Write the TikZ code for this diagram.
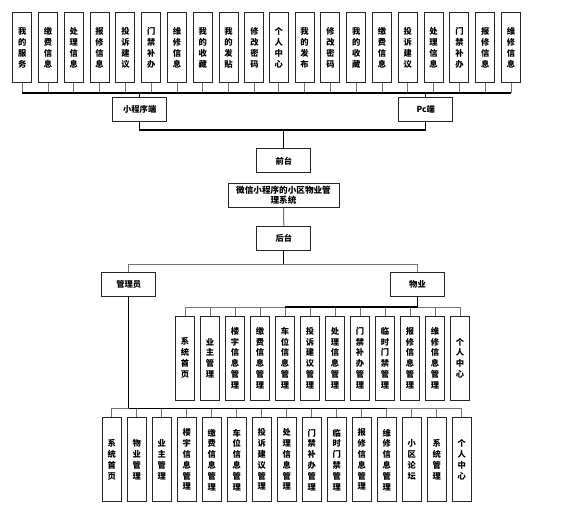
\documentclass[tikz,border=0pt]{standalone}
\usepackage{fontspec}
\setmainfont{Noto Sans CJK SC}
\begin{document}
\begin{tikzpicture}[x=1pt,y=-1pt,
  box/.style={draw=black!85,line width=1pt,fill=white,inner sep=0pt,align=center,
    font=\fontsize{8.3}{10.8}\selectfont\bfseries},
  topbox/.style={box,minimum width=19pt,minimum height=70pt},
  rowbox/.style={box,minimum width=19pt,minimum height=84pt},
  hbox/.style={box,minimum width=54pt,minimum height=24pt},
  main/.style={draw=black,line width=1.3pt},
  stub/.style={draw=black!55,line width=1pt}]
\useasboundingbox (0,0) rectangle (576,512);
% top row
\foreach \t [count=\i from 0] in {{我\\的\\服\\务},{缴\\费\\信\\息},{处\\理\\信\\息},{报\\修\\信\\息},{投\\诉\\建\\议},{门\\禁\\补\\办},{维\\修\\信\\息},{我\\的\\收\\藏},{我\\的\\发\\贴},{修\\改\\密\\码}}
  \node[topbox] (t\i) at ({22.2+25.8*\i},47.8) {\t};
\foreach \t [count=\i from 0] in {{个\\人\\中\\心},{我\\的\\发\\布},{修\\改\\密\\码},{我\\的\\收\\藏},{缴\\费\\信\\息},{投\\诉\\建\\议},{处\\理\\信\\息},{门\\禁\\补\\办},{报\\修\\信\\息},{维\\修\\信\\息}}
  \node[topbox] (r\i) at ({278.8+25.8*\i},47.8) {\t};
% middle nodes
\node[hbox] (mp) at (139.7,109.3) {小程序端};
\node[hbox] (pc) at (425.8,109.3) {Pc端};
\node[hbox] (qt) at (283.8,160.8) {前台};
\node[box,minimum width=111pt,minimum height=24.5pt,font=\fontsize{8.6}{10.3}\selectfont\bfseries] (title) at (283.5,195.3) {微信小程序的小区物业管\\理系统};
\node[hbox] (ht) at (283.8,238.3) {后台};
\node[hbox] (gly) at (128.8,284.8) {管理员};
\node[hbox] (wy) at (417.5,284.8) {物业};
% middle row
\foreach \t [count=\i from 0] in {{系\\统\\首\\页},{业\\主\\管\\理},{楼\\宇\\信\\息\\管\\理},{缴\\费\\信\\息\\管\\理},{车\\位\\信\\息\\管\\理},{投\\诉\\建\\议\\管\\理},{处\\理\\信\\息\\管\\理},{门\\禁\\补\\办\\管\\理},{临\\时\\门\\禁\\管\\理},{报\\修\\信\\息\\管\\理},{维\\修\\信\\息\\管\\理},{个\\人\\中\\心}}
  \node[rowbox,minimum width=18.6pt] (m\i) at ({185+25*\i},358) {\t};
% bottom row
\foreach \t [count=\i from 0] in {{系\\统\\首\\页},{物\\业\\管\\理},{业\\主\\管\\理},{楼\\宇\\信\\息\\管\\理},{缴\\费\\信\\息\\管\\理},{车\\位\\信\\息\\管\\理},{投\\诉\\建\\议\\管\\理},{处\\理\\信\\息\\管\\理},{门\\禁\\补\\办\\管\\理},{临\\时\\门\\禁\\管\\理},{报\\修\\信\\息\\管\\理},{维\\修\\信\\息\\管\\理},{小\\区\\论\\坛},{系\\统\\管\\理},{个\\人\\中\\心}}
  \node[rowbox] (b\i) at ({111.7+25*\i},459.7) {\t};
% connectors: top
\coordinate (topbus) at (0,93);
\foreach \i in {0,...,9} {
  \draw[stub] (t\i.south) -- (t\i.south |- topbus);
  \draw[stub] (r\i.south) -- (r\i.south |- topbus);
}
\draw[main] (t0.south |- topbus) -- (r9.south |- topbus);
\draw[main] (mp.north) -- (mp.north |- topbus);
\draw[main] (pc.north) -- (pc.north |- topbus);
\coordinate (bus2) at (0,130);
\draw[main] (mp.south) -- (mp.south |- bus2) -- (pc.south |- bus2) -- (pc.south);
\draw[main] (qt.north |- bus2) -- (qt.north);
\draw[stub] (title.south) -- (ht.north);
\coordinate (bus3) at (0,264);
\draw[main] (ht.south) -- (ht.south |- bus3);
\draw[stub] (gly.north) -- (gly.north |- bus3) -- (wy.north |- bus3) -- (wy.north);
% middle row connectors
\coordinate (bus4) at (0,307);
\draw[main] (wy.south) -- (wy.south |- bus4);
\foreach \i in {0,...,11}
  \draw[stub] (m\i.north) -- (m\i.north |- bus4);
\draw[main] (m4.north |- bus4) -- (wy.south |- bus4);
\draw[stub] (m0.north |- bus4) -- (m4.north |- bus4);
\draw[stub] (wy.south |- bus4) -- (m11.north |- bus4);
% bottom row connectors
\coordinate (bus5) at (0,408.3);
\foreach \i in {0,...,14}
  \draw[stub] (b\i.north) -- (b\i.north |- bus5);
\draw[main] (gly.south) -- (gly.south |- bus5) -- (b11.north |- bus5);
\draw[stub] (b0.north |- bus5) -- (gly.south |- bus5);
\draw[stub] (b11.north |- bus5) -- (b14.north |- bus5);
\end{tikzpicture}
\end{document}
